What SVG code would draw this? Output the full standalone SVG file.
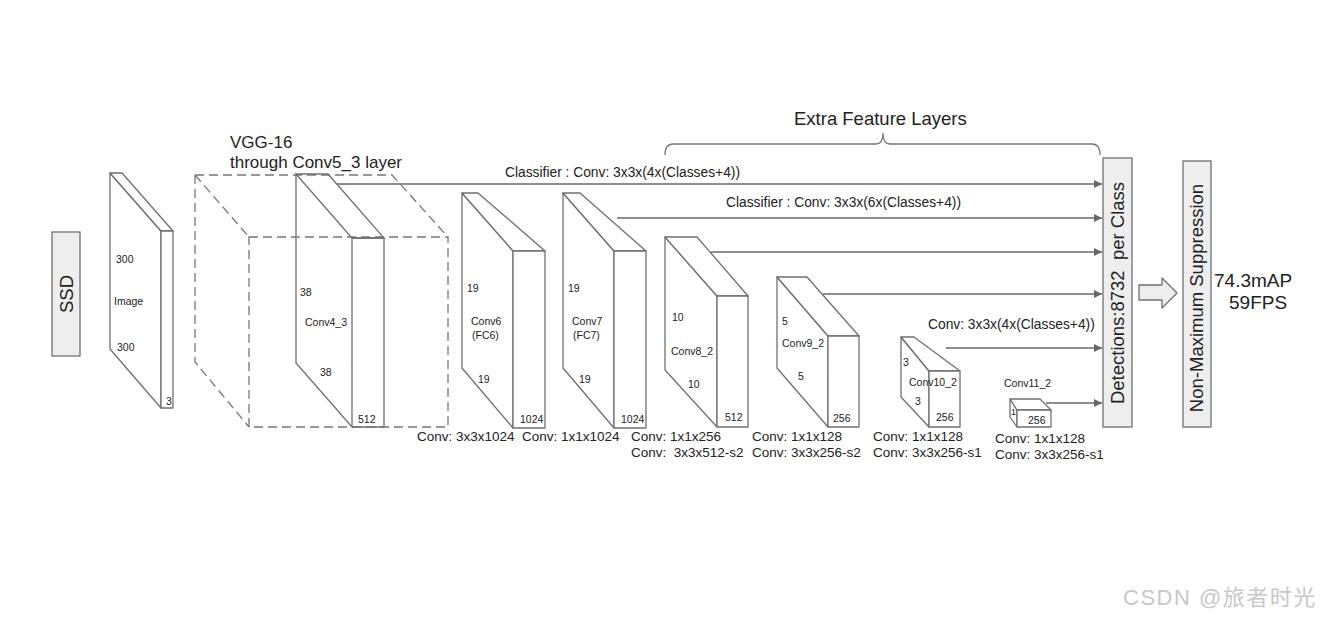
<svg xmlns="http://www.w3.org/2000/svg" width="1323" height="618" viewBox="0 0 1323 618">
<defs>
<marker id="ah" viewBox="0 0 10 10" refX="10" refY="5" markerWidth="8" markerHeight="8" markerUnits="userSpaceOnUse" orient="auto"><path d="M0,0 L10,5 L0,10 z" fill="#666"/></marker>
<style>
.blk{fill:#fff;stroke:#707070;stroke-width:1.3;stroke-linejoin:round}
.open{fill:none;stroke:#707070;stroke-width:1.3}
.dash{fill:none;stroke:#777;stroke-width:1.3;stroke-dasharray:9 5}
.con{fill:none;stroke:#6a6a6a;stroke-width:1.4;marker-end:url(#ah)}
.box{fill:#eeeeee;stroke:#707070;stroke-width:1.3}
text{font-family:"Liberation Sans",Arial,sans-serif;fill:#222}
.s{font-size:10.5px}
.m{font-size:13.5px}
.c{font-size:13.8px}
.l{font-size:18.5px}
</style>
</defs>
<rect width="1323" height="618" fill="#fff"/>

<g id="ssd">
<rect class="box" x="52" y="232" width="28" height="124"/>
<text class="l" transform="translate(73,294) rotate(-90)" text-anchor="middle">SSD</text>
</g>

<g id="image">
<path class="blk" d="M110,173 L161,231 L161,408 L110,349 Z"/>
<path class="blk" d="M110,173 L122,173 L173,231 L161,231 Z"/>
<rect class="blk" x="161" y="231" width="12" height="177"/>
<text class="s" x="116" y="263">300</text>
<text class="s" x="114" y="305">Image</text>
<text class="s" x="117" y="351">300</text>
<text class="s" x="166" y="405">3</text>
</g>

<g id="vgg16">
<path class="dash" d="M195,175 L392,175 L448,237 M195,175 L249,237 M195,175 L195,362 L249,427"/>
<rect class="dash" x="249" y="237" width="199" height="190"/>
<text class="l" style="font-size:17px" x="230" y="148">VGG-16</text>
<text class="l" style="font-size:17px" x="230" y="168">through Conv5_3 layer</text>
</g>

<g id="conv4_3">
<path class="open" d="M296,174 L352,238 L352,427 L296,363 Z"/>
<path class="open" d="M296,174 L328,174 L384,238 L352,238"/>
<path class="open" d="M352,238 L384,238 L384,427 L352,427"/>
<text class="s" x="300" y="296">38</text>
<text class="s" x="305" y="326">Conv4_3</text>
<text class="s" x="320" y="376">38</text>
<text class="s" x="358" y="423">512</text>
</g>

<g id="conv6">
<path class="blk" d="M462,193 L513,251 L513,428 L462,368 Z"/>
<path class="blk" d="M462,193 L478,193 L545,251 L513,251 Z"/>
<rect class="blk" x="513" y="251" width="32" height="177"/>
<text class="s" x="467" y="292">19</text>
<text class="s" x="471" y="325">Conv6</text>
<text class="s" x="472" y="339">(FC6)</text>
<text class="s" x="478" y="383">19</text>
<text class="s" x="520" y="423">1024</text>
</g>

<g id="conv7">
<path class="blk" d="M563,193 L614,251 L614,428 L563,368 Z"/>
<path class="blk" d="M563,193 L580,193 L646,251 L614,251 Z"/>
<rect class="blk" x="614" y="251" width="32" height="177"/>
<text class="s" x="568" y="292">19</text>
<text class="s" x="572" y="325">Conv7</text>
<text class="s" x="573" y="339">(FC7)</text>
<text class="s" x="579" y="383">19</text>
<text class="s" x="621" y="423">1024</text>
</g>

<g id="conv8_2">
<path class="blk" d="M665,237 L717,296 L717,427 L665,370 Z"/>
<path class="blk" d="M665,237 L697,237 L748,296 L717,296 Z"/>
<rect class="blk" x="717" y="296" width="31" height="131"/>
<text class="s" x="672" y="321">10</text>
<text class="s" x="671" y="355">Conv8_2</text>
<text class="s" x="688" y="388">10</text>
<text class="s" x="725" y="421">512</text>
</g>

<g id="conv9_2">
<path class="blk" d="M777,277 L828,336 L828,427 L777,368 Z"/>
<path class="blk" d="M777,277 L807,277 L859,336 L828,336 Z"/>
<rect class="blk" x="828" y="336" width="31" height="91"/>
<text class="s" x="782" y="325">5</text>
<text class="s" x="782" y="347">Conv9_2</text>
<text class="s" x="798" y="380">5</text>
<text class="s" x="833" y="422">256</text>
</g>

<g id="conv10_2">
<path class="blk" d="M901,337 L929,371 L929,427 L901,397 Z"/>
<path class="blk" d="M901,337 L914,337 L960,371 L929,371 Z"/>
<rect class="blk" x="929" y="371" width="31" height="56"/>
<text class="s" x="903" y="366">3</text>
<text class="s" x="909" y="386">Conv10_2</text>
<text class="s" x="915" y="405">3</text>
<text class="s" x="936" y="421">256</text>
</g>

<g id="conv11_2">
<path class="blk" d="M1010,399 L1017,410 L1017,427 L1010,417 Z"/>
<path class="blk" d="M1010,399 L1040,399 L1051,410 L1017,410 Z"/>
<rect class="blk" x="1017" y="410" width="34" height="17"/>
<text class="s" style="font-size:9px" x="1011" y="415">1</text>
<text class="s" x="1028" y="424">256</text>
<text class="s" x="1004" y="387">Conv11_2</text>
</g>

<g id="detections">
<rect class="box" x="1103" y="158" width="29" height="269"/>
<text class="l" transform="translate(1124,293) rotate(-90)" text-anchor="middle" xml:space="preserve">Detections:8732  per Class</text>
</g>

<g id="nms_arrow">
<path d="M1139,285 L1162,285 L1162,278 L1177,293 L1162,308 L1162,300 L1139,300 Z" fill="#eeeeee" stroke="#707070" stroke-width="1.3" stroke-linejoin="round"/>
</g>

<g id="nms">
<rect class="box" x="1183" y="161" width="28" height="266"/>
<text class="l" transform="translate(1203,298) rotate(-90)" text-anchor="middle">Non-Maximum Suppression</text>
</g>

<g id="result">
<text style="font-size:19px" x="1214" y="287">74.3mAP</text>
<text style="font-size:19px" x="1229" y="309">59FPS</text>
</g>

<g id="connectors">
<line class="con" x1="337" y1="184" x2="1102" y2="184"/>
<line class="con" x1="617" y1="218" x2="1102" y2="218"/>
<line class="con" x1="711" y1="252" x2="1102" y2="252"/>
<line class="con" x1="823" y1="294" x2="1102" y2="294"/>
<line class="con" x1="946" y1="348" x2="1102" y2="348"/>
<line class="con" x1="1046" y1="403" x2="1102" y2="403"/>
<path d="M665,155 Q665,144 673,144 L876,144 Q883,144 883,133 Q883,144 890,144 L1092,144 Q1100,144 1100,155" fill="none" stroke="#777" stroke-width="1.3"/>
</g>

<g id="labels">
<text class="l" x="794" y="125">Extra Feature Layers</text>
<text class="c" x="505" y="177">Classifier : Conv: 3x3x(4x(Classes+4))</text>
<text class="c" x="726" y="207">Classifier : Conv: 3x3x(6x(Classes+4))</text>
<text class="c" x="928" y="329">Conv: 3x3x(4x(Classes+4))</text>
<text class="m" x="417" y="441">Conv: 3x3x1024</text>
<text class="m" x="522" y="441">Conv: 1x1x1024</text>
<text class="m" x="631" y="441">Conv: 1x1x256</text>
<text class="m" x="631" y="457" xml:space="preserve">Conv:  3x3x512-s2</text>
<text class="m" x="752" y="441">Conv: 1x1x128</text>
<text class="m" x="752" y="457">Conv: 3x3x256-s2</text>
<text class="m" x="873" y="441">Conv: 1x1x128</text>
<text class="m" x="873" y="457">Conv: 3x3x256-s1</text>
<text class="m" x="995" y="443">Conv: 1x1x128</text>
<text class="m" x="995" y="459">Conv: 3x3x256-s1</text>
</g>

<g id="watermark">
<text x="1123" y="605" style="font-family:'Liberation Sans','Noto Sans CJK SC',sans-serif;font-size:22px;letter-spacing:1.5px;fill:#c8c8c8">CSDN @旅者时光</text>
</g>
</svg>
